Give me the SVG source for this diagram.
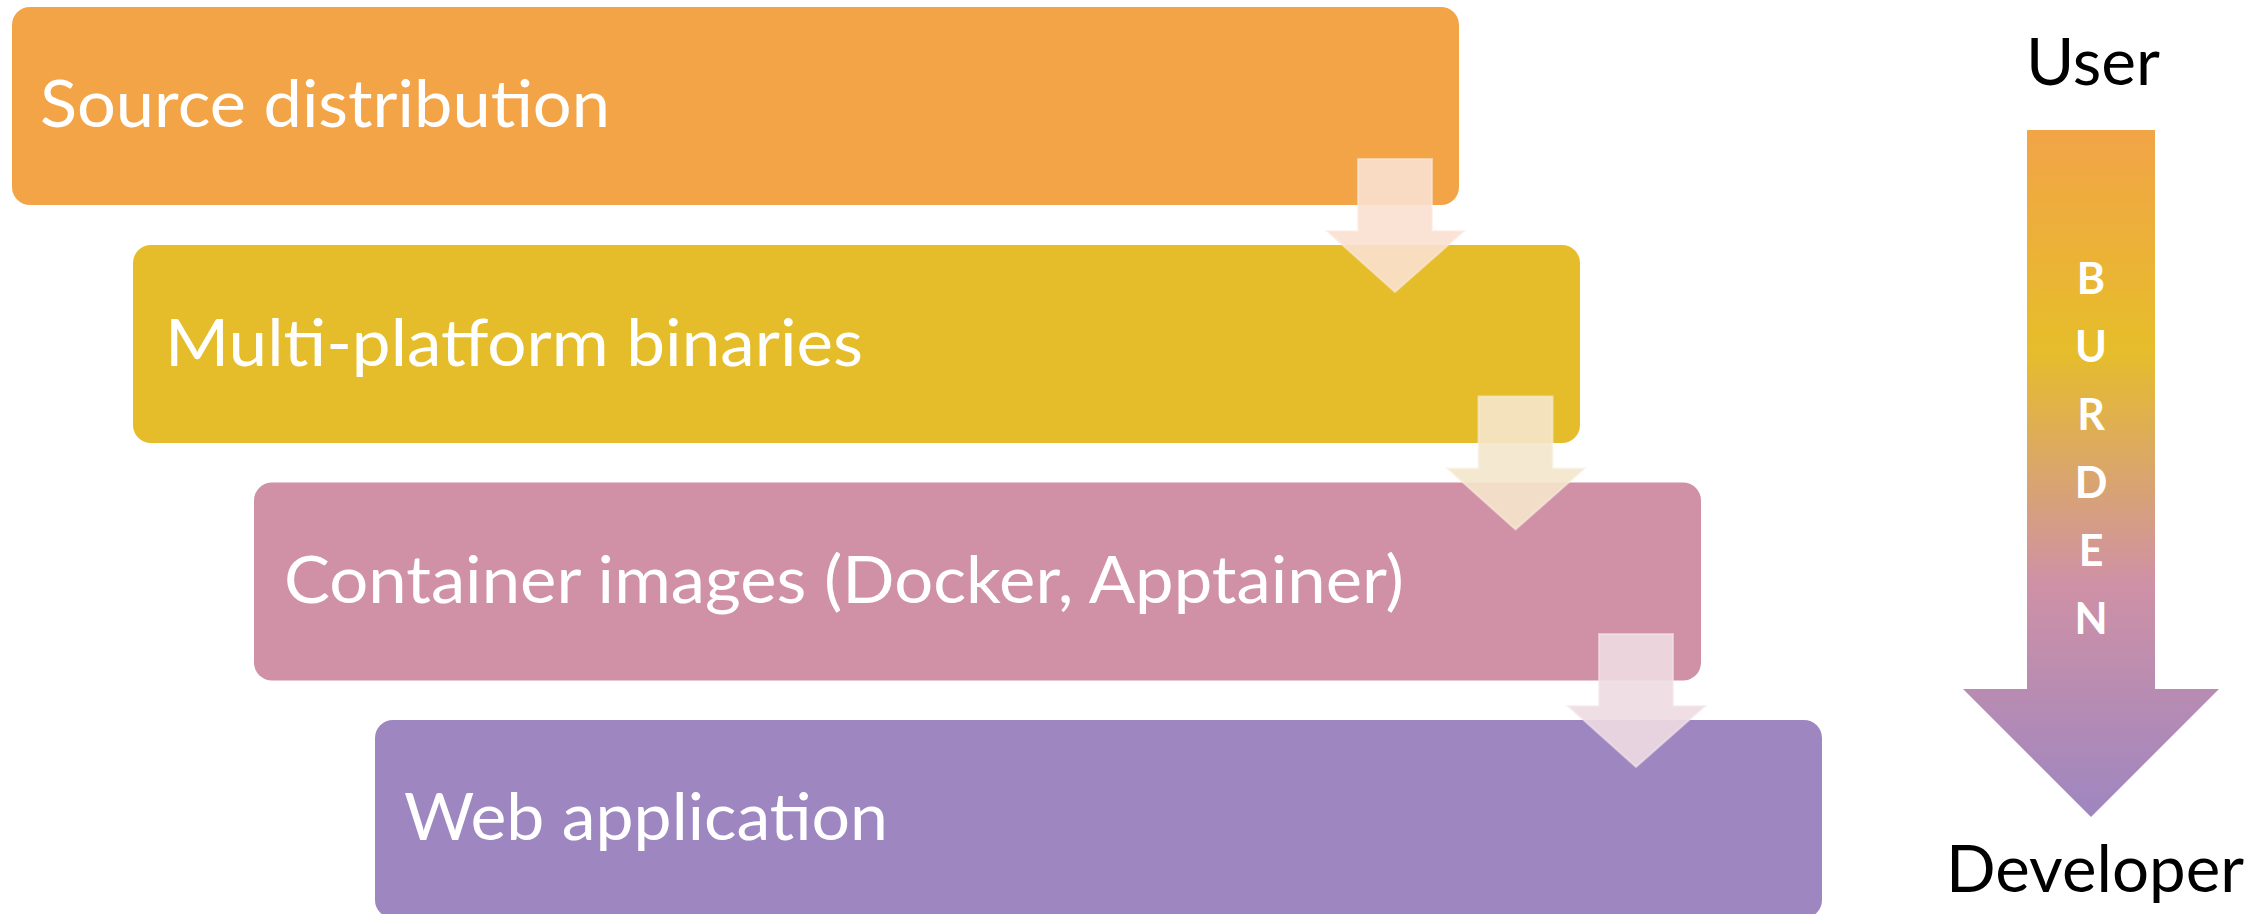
<svg xmlns="http://www.w3.org/2000/svg" width="2252" height="914" viewBox="0 0 2252 914">
  <style>
    .box-text { font-family: Lato, "Open Sans", "Liberation Sans", sans-serif; font-size: 65px; fill: #FFFFFF; }
    .side-text { font-family: Lato, "Open Sans", "Liberation Sans", sans-serif; font-size: 65px; fill: #000000; }
    .burden { font-family: Lato, "Open Sans", "Liberation Sans", sans-serif; font-size: 43px; font-weight: 700; fill: #FFFFFF; text-anchor: middle; }
    .step-arrow { fill-opacity: 0.9; stroke-width: 2; stroke-opacity: 0.6; }
  </style>
  <defs>
    <linearGradient id="burdenGrad" gradientUnits="userSpaceOnUse" x1="0" y1="130" x2="0" y2="817">
      <stop offset="0" stop-color="#F2A447"/>
      <stop offset="0.32" stop-color="#E6BD2A"/>
      <stop offset="0.66" stop-color="#CF91A6"/>
      <stop offset="1" stop-color="#9E86C0"/>
    </linearGradient>
  </defs>
  <rect width="2252" height="914" fill="#FFFFFF"/>

  <g id="node-source">
    <rect x="12" y="7" width="1447" height="198" rx="18" fill="#F2A447"/>
    <text class="box-text" x="40" y="127" textLength="570" lengthAdjust="spacingAndGlyphs">Source distribution</text>
  </g>
  <g id="node-binaries">
    <rect x="133" y="245" width="1447" height="198" rx="18" fill="#E5BD2A"/>
    <text class="box-text" x="165" y="366" textLength="698" lengthAdjust="spacingAndGlyphs">Multi-platform binaries</text>
  </g>
  <g id="node-containers">
    <rect x="254" y="482.5" width="1447" height="198" rx="18" fill="#D091A6"/>
    <text class="box-text" x="284" y="603" textLength="1120" lengthAdjust="spacingAndGlyphs">Container images (Docker, Apptainer)</text>
  </g>
  <g id="node-web">
    <rect x="375" y="720" width="1447" height="198" rx="18" fill="#9E86C0"/>
    <text class="box-text" x="404" y="840" textLength="484" lengthAdjust="spacingAndGlyphs">Web application</text>
  </g>

  <g id="connectors">
    <polygon class="step-arrow" points="1358,159 1432,159 1432,231 1464,231 1395,292 1327,231 1358,231" fill="#FAE0CF" stroke="#FBEADF"/>
    <polygon class="step-arrow" points="1478.5,396.5 1552.5,396.5 1552.5,468.5 1584.5,468.5 1515.5,529.5 1447.5,468.5 1478.5,468.5" fill="#F4E6CC" stroke="#F8EEDD"/>
    <polygon class="step-arrow" points="1599,634 1673,634 1673,706 1705,706 1636,767 1568,706 1599,706" fill="#EDDBE2" stroke="#F3E6EB"/>
  </g>

  <g id="burden-arrow">
    <polygon points="2027,130 2155,130 2155,689 2219,689 2091,817 1963,689 2027,689" fill="url(#burdenGrad)"/>
    <text class="burden" x="2091" y="294">B</text>
    <text class="burden" x="2091" y="362">U</text>
    <text class="burden" x="2091" y="430">R</text>
    <text class="burden" x="2091" y="498">D</text>
    <text class="burden" x="2091" y="566">E</text>
    <text class="burden" x="2091" y="634">N</text>
  </g>
  <g id="label-user">
    <text class="side-text" x="2026" y="85" textLength="134" lengthAdjust="spacingAndGlyphs">User</text>
  </g>
  <g id="label-developer">
    <text class="side-text" x="1946" y="892" textLength="298" lengthAdjust="spacingAndGlyphs">Developer</text>
  </g>
</svg>
